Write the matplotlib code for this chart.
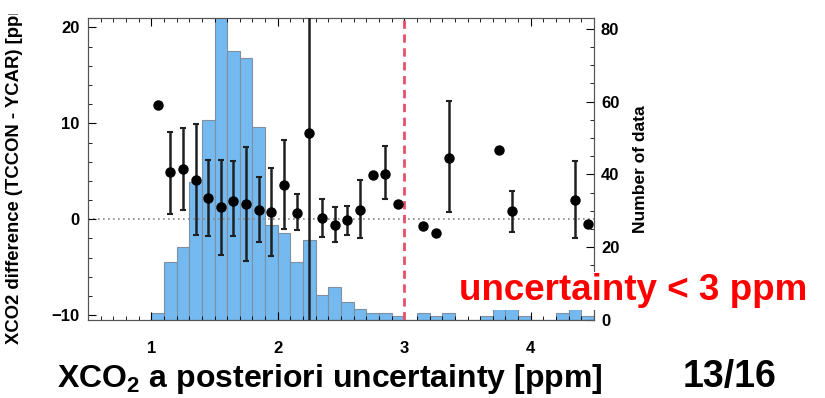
import numpy as np
import matplotlib.pyplot as plt
from matplotlib.ticker import MultipleLocator
from matplotlib.transforms import Bbox, TransformedBbox

plt.rcParams['font.family'] = ['Liberation Sans', 'DejaVu Sans']
plt.rcParams['font.weight'] = 'bold'
plt.rcParams['mathtext.fontset'] = 'custom'
plt.rcParams['mathtext.bf'] = 'Liberation Sans:bold'
plt.rcParams['mathtext.rm'] = 'Liberation Sans:bold'

# histogramm: liczba danych w przedzialach niepewnosci (szer. 0.1 ppm)
bin_lo = [1.0, 1.1, 1.2, 1.3, 1.4, 1.5, 1.6, 1.7, 1.8, 1.9,
          2.0, 2.1, 2.2, 2.3, 2.4, 2.5, 2.6, 2.7, 2.8, 2.9,
          3.0, 3.1, 3.2, 3.3, 3.4, 3.5, 3.6, 3.7, 3.8, 3.9,
          4.0, 4.1, 4.2, 4.3, 4.4]
counts = [2, 16, 20, 38, 55, 90, 74, 72, 53, 26,
          24, 16, 22, 7, 9, 5, 3, 2, 2, 1,
          0, 2, 1, 2, 0, 0, 1, 3, 3, 1,
          0, 0, 2, 3, 1]

# srednia roznica XCO2 (TCCON - YCAR) i slupki bledow
pt_x = [1.05, 1.15, 1.25, 1.35, 1.45, 1.55, 1.65, 1.75, 1.85, 1.95,
        2.05, 2.15, 2.25, 2.35, 2.45, 2.55, 2.65, 2.75, 2.85, 2.95,
        3.15, 3.25, 3.35, 3.75, 3.85, 4.35, 4.45]
pt_y = [11.9, 4.9, 5.2, 4.1, 2.2, 1.3, 1.9, 1.6, 1.0, 0.8,
        3.6, 0.7, 9.0, 0.1, -0.6, -0.1, 1.0, 4.6, 4.7, 1.6,
        -0.7, -1.4, 6.4, 7.2, 0.9, 2.0, -0.5]
err_top = [np.nan, 9.1, 9.5, 9.9, 6.2, 6.2, 6.1, 7.5, 4.4, 5.3,
           8.3, 2.6, 40, 2.1, 1.3, 1.4, 4.1, np.nan, 7.6, np.nan,
           np.nan, np.nan, 12.3, np.nan, 3.0, 6.1, np.nan]
err_bot = [np.nan, 0.6, 1.0, -1.6, -1.7, -3.7, -1.7, -4.4, -2.4, -3.8,
           -1.0, -1.1, -25, -1.8, -2.4, -1.6, -2.0, np.nan, 2.1, np.nan,
           np.nan, np.nan, 0.8, np.nan, -1.3, -2.0, np.nan]

x = np.array(pt_x)
y = np.array(pt_y)
lo = y - np.array(err_bot)
hi = np.array(err_top) - y

fig = plt.figure(figsize=(8.25, 3.98), dpi=100)
ax1 = fig.add_axes([0.1067, 0.196, 0.6133, 0.759])
ax2 = ax1.twinx()
ax1.set_zorder(ax2.get_zorder() + 1)
ax1.patch.set_visible(False)

# slupki histogramu (prawa os)
ax2.bar(bin_lo, counts, width=0.1, align='edge', color='#74baf0',
        edgecolor='#7f8fa0', linewidth=0.8)
ax2.set_ylim(0, 83)
ax2.yaxis.set_major_locator(MultipleLocator(20))
ax2.yaxis.set_minor_locator(MultipleLocator(5))
ax2.tick_params(axis='y', which='both', direction='in', labelsize=12, pad=5)
ax2.tick_params(axis='y', which='major', length=6)
ax2.tick_params(axis='y', which='minor', length=3)
ax2.set_ylabel('Number of data', fontsize=12.5, fontweight='bold', labelpad=10)

# punkty i bledy (lewa os)
ax1.axhline(0, color='#888888', lw=1.2, ls=(0, (1, 2)), zorder=1)
ax1.axvline(3.0, color='#e8506a', lw=2, ls=(0, (3, 2)), zorder=2)
ax1.errorbar(x, y, yerr=[lo, hi], fmt='o', color='black', ms=6.5,
             ecolor='#202020', elinewidth=1.8, capsize=2.5, capthick=1.5, zorder=3)
ax1.set_xlim(0.5, 4.5)
ax1.set_ylim(-10.5, 21)
ax1.xaxis.set_major_locator(MultipleLocator(1))
ax1.xaxis.set_minor_locator(MultipleLocator(0.1))
ax1.yaxis.set_major_locator(MultipleLocator(10))
ax1.yaxis.set_minor_locator(MultipleLocator(2))
ax1.tick_params(which='both', direction='in', top=True, labelsize=12)
ax1.tick_params(which='major', length=6)
ax1.tick_params(which='minor', length=3)
ax1.tick_params(axis='x', pad=15)
ax1.tick_params(axis='y', pad=6)
for sp in list(ax1.spines.values()) + list(ax2.spines.values()):
    sp.set_color('#555555')

yl = fig.text(0.018, 0.135, 'XCO2 difference (TCCON - YCAR) [ppm]', rotation=90,
              ha='center', va='bottom', fontsize=13.3, fontweight='bold')
yl.set_clip_box(TransformedBbox(Bbox([[0, 0], [1, 1 - 14 / 398]]), fig.transFigure))
yl.set_clip_on(True)

fig.text(0.40, 0.028, r'XCO$_\mathbf{2}$ a posteriori uncertainty [ppm]',
         ha='center', va='baseline', fontsize=23, fontweight='bold')
fig.text(0.884, 0.028, '13/16', ha='center', va='baseline',
         fontsize=27, fontweight='bold')
fig.text(0.767, 0.246, 'uncertainty < 3 ppm', ha='center', va='baseline',
         fontsize=26.5, fontweight='bold', color='#ff0000', zorder=10,
         bbox=dict(facecolor='white', edgecolor='none', pad=1))

plt.savefig('out.png', dpi=100)
